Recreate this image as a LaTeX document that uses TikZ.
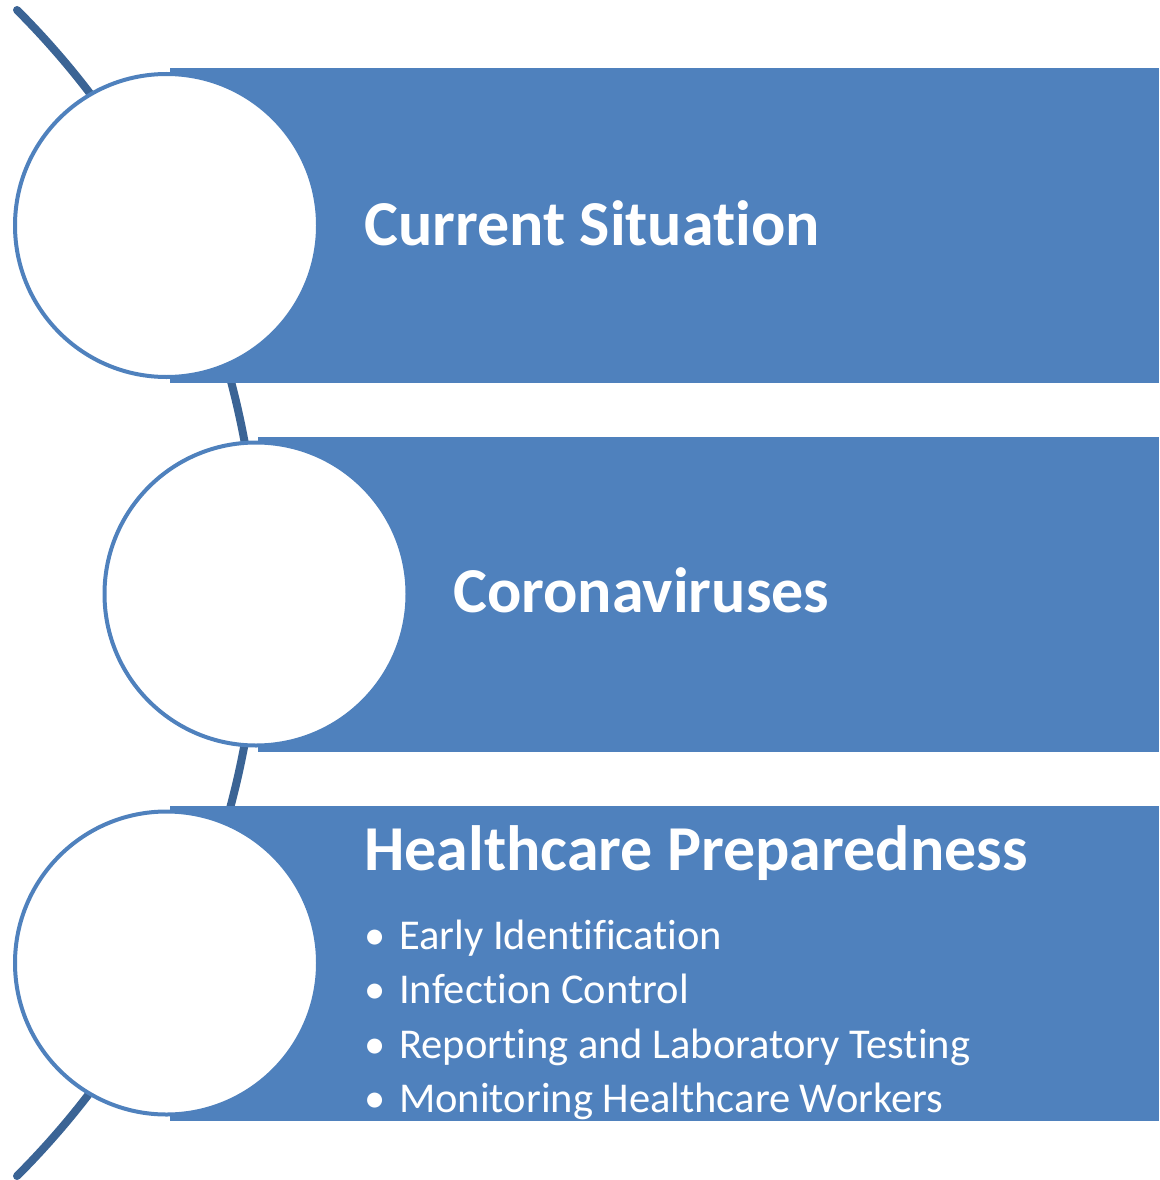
\documentclass[tikz,border=0pt]{standalone}
\usepackage{fontspec}
\setmainfont[Ligatures={NoCommon}]{Carlito}
\definecolor{barblue}{HTML}{4F81BD}
\definecolor{arcblue}{HTML}{3B6495}
\begin{document}
\begin{tikzpicture}[x=1pt,y=-1pt,
  bar/.style={fill=barblue,draw=none,anchor=north west,inner sep=0,minimum height=315pt},
  ring/.style={circle,fill=white,draw=barblue,line width=4pt,inner sep=0,minimum size=303pt},
  title/.style={text=white,anchor=base west,inner sep=0,font=\fontsize{64}{70}\selectfont\bfseries},
  item/.style={text=white,anchor=base west,inner sep=0,font=\fontsize{42.5}{48}\selectfont},
  dot/.style={text=white,anchor=base west,inner sep=0,font=\fontsize{42.5}{48}\selectfont}]
\useasboundingbox (0,0) rectangle (1159,1180);
% background arc
\draw[arcblue,line width=8pt,line cap=round] (17,10) arc[start angle=-45,end angle=45,radius=824.5];
% bars
\node[bar,minimum width=989pt] (b1) at (170,68) {};
\node[bar,minimum width=901pt] (b2) at (258,437) {};
\node[bar,minimum width=989pt] (b3) at (170,806) {};
% circles
\node[ring] (c1) at (166.5,225.5) {};
\node[ring] (c2) at (256,594) {};
\node[ring] (c3) at (166.5,963) {};
% texts
\node[title] (t1) at (364,245) {Current Situation};
\node[title] (t2) at (453,612) {Coronaviruses};
\node[title] (t3) at (364,870) {Healthcare Preparedness};
\node[dot] (d1) at (364,949) {•};
\node[item] (i1) at (399,949) {Early Identification};
\node[dot] (d2) at (364,1003) {•};
\node[item] (i2) at (399,1003) {Infection Control};
\node[dot] (d3) at (364,1058) {•};
\node[item] (i3) at (399,1058) {Reporting and Laboratory Testing};
\node[dot] (d4) at (364,1112) {•};
\node[item] (i4) at (399,1112) {Monitoring Healthcare Workers};
\end{tikzpicture}
\end{document}
